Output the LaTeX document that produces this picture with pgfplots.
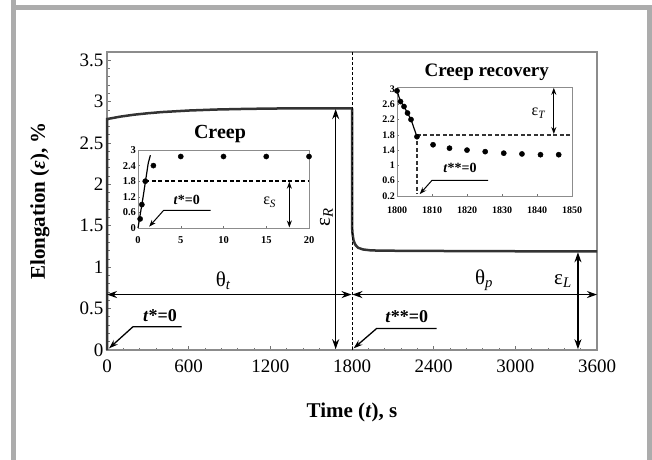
\documentclass[border=0pt]{standalone}
\usepackage{fontspec}
\setmainfont{Liberation Serif}
\usepackage{pgfplots}
\pgfplotsset{compat=1.18}
\usetikzlibrary{arrows.meta}
\begin{document}
\begin{tikzpicture}[x=1pt,y=1pt,
  dbl/.style={{Stealth[length=10pt,width=7pt]}-{Stealth[length=10pt,width=7pt]}, line width=1.6pt},
  sgl/.style={-{Stealth[length=9pt,width=6pt]}, line width=1.3pt},
  sdbl/.style={{Stealth[length=7pt,width=5pt]}-{Stealth[length=7pt,width=5pt]}, line width=1.3pt},
  ssgl/.style={-{Stealth[length=7pt,width=5pt]}, line width=1pt}]
\useasboundingbox (0,0) rectangle (652,459);
\draw[line width=5pt, gray!65] (13.5,468) -- (13.5,451.5) -- (649.5,451.5) -- (649.5,-10);
\draw[line width=5pt, gray!65] (13.5,451.5) -- (13.5,-10);

% main axis
\begin{axis}[
  at={(107pt,109pt)}, anchor=south west,
  scale only axis, width=490pt, height=298pt,
  xmin=0, xmax=3600, ymin=0, ymax=3.6,
  xtick={0,600,...,3600}, ytick={0,0.5,...,3.5},
  minor x tick num=4, minor y tick num=4,
  tick align=inside, tick pos=left,
  major tick length=4pt, minor tick length=2.5pt,
  axis line style={draw=black!45, line width=1.2pt},
  every tick/.style={black!55, line width=0.8pt},
  /pgf/number format/1000 sep={},
  /pgf/number format/assume math mode=true,
  ticklabel style={font=\fontsize{19}{19}\selectfont},
  xticklabel style={yshift=-6pt},
  xlabel={\textbf{Time (\textit{t}), s}},
  ylabel={\textbf{Elongation (\textit{ε}), \%}},
  label style={font=\fontsize{21}{21}\selectfont},
  xlabel style={at={(axis description cs:0.5,-0.21)}, anchor=center},
  ylabel style={at={(axis description cs:-0.137,0.5)}, anchor=center},
  clip=false,
]
% creep
\addplot[black!80, line width=2.5pt] coordinates {
 (0,0) (0,2.79) (50,2.805) (100,2.82) (200,2.843) (300,2.86) (400,2.874) (600,2.893) (800,2.905) (1000,2.912) (1200,2.917) (1500,2.92) (1800,2.92)};
% recovery
\addplot[black!80, line width=2.5pt] coordinates {
 (1800,2.92) (1800,1.50) (1804,1.40) (1812,1.32) (1825,1.27) (1845,1.235) (1880,1.215) (1930,1.205) (2000,1.2) (2600,1.195) (3600,1.19)};
\draw[black, line width=1pt, dash pattern=on 3pt off 2pt] (axis cs:1800,0) -- (axis cs:1800,3.6);
% double arrows
\draw[dbl] (axis cs:1680,0.01) -- (axis cs:1680,2.91);
\draw[dbl] (axis cs:3460,0.01) -- (axis cs:3460,1.18);
\draw[dbl] (axis cs:0,0.67) -- (axis cs:1797,0.67);
\draw[dbl] (axis cs:1803,0.67) -- (axis cs:3600,0.67);
\node[rotate=90, font=\fontsize{21}{21}\selectfont] at (axis cs:1612,1.6) {ε\textsubscript{\textit{R}}};
\node[font=\fontsize{21}{21}\selectfont] at (axis cs:3350,0.83) {ε\textsubscript{\textit{L}}};
\node[font=\fontsize{21}{21}\selectfont] at (axis cs:855,0.84) {θ\textsubscript{\textit{t}}};
\node[font=\fontsize{21}{21}\selectfont] at (axis cs:2770,0.84) {θ\textsubscript{\textit{p}}};
% t*=0
\draw[sgl] (axis cs:549,0.28) -- (axis cs:190,0.28) -- (axis cs:15,0.02);
\node[font=\bfseries\fontsize{18}{18}\selectfont] at (axis cs:390,0.41) {\textit{t}*=0};
\draw[sgl] (axis cs:2422,0.26) -- (axis cs:1981,0.26) -- (axis cs:1812,0.02);
\node[font=\bfseries\fontsize{18}{18}\selectfont] at (axis cs:2202,0.40) {\textit{t}**=0};
\node[font=\bfseries\fontsize{20}{20}\selectfont] at (axis cs:830,2.61) {Creep};
\node[font=\bfseries\fontsize{19}{19}\selectfont] at (axis cs:2790,3.35) {Creep recovery};
\end{axis}

% creep inset
\begin{axis}[
  at={(138pt,231pt)}, anchor=south west,
  scale only axis, width=171pt, height=78pt,
  xmin=0, xmax=20, ymin=0, ymax=3,
  xtick={0,5,...,20}, ytick={0,0.6,1.2,1.8,2.4,3},
  tick align=inside, tick pos=left, major tick length=2pt,
  axis line style={draw=black!45, line width=1pt},
  every tick/.style={black!55},
  /pgf/number format/assume math mode=true,
  ticklabel style={font=\bfseries\fontsize{10.5}{10.5}\selectfont},
  yticklabel style={xshift=1.5pt},
  xticklabel style={yshift=-5pt},
  clip=false,
]
\addplot[black, line width=1.2pt] coordinates {(0,0) (0.6,1.2) (1.2,2.5) (1.45,2.8)};
\addplot[only marks, mark=*, mark size=2.6pt, black] coordinates {
 (0.25,0.35) (0.45,0.9) (0.85,1.8) (1.8,2.4) (5,2.75) (10,2.75) (15,2.75) (20,2.75)};
\draw[black, line width=1.6pt, dash pattern=on 4pt off 2.5pt] (axis cs:0.85,1.8) -- (axis cs:20,1.8);
\draw[sdbl] (axis cs:17.7,0.02) -- (axis cs:17.7,1.78);
\node[font=\fontsize{16}{16}\selectfont] at (axis cs:15.4,1.0) {ε\textsubscript{\textit{S}}};
\draw[ssgl] (axis cs:8.5,0.68) -- (axis cs:3,0.68) -- (axis cs:1.3,0.05);
\node[font=\bfseries\fontsize{14}{14}\selectfont] at (axis cs:5.7,1.07) {\textit{t}*=0};
\end{axis}

% recovery inset
\begin{axis}[
  at={(397pt,263pt)}, anchor=south west,
  scale only axis, width=175pt, height=109pt,
  xmin=1800, xmax=1850, ymin=0.2, ymax=3.05,
  xtick={1800,1810,...,1850}, ytick={0.2,0.6,1,1.4,1.8,2.2,2.6,3},
  tick align=inside, tick pos=left, major tick length=2pt,
  axis line style={draw=black!45, line width=1pt},
  every tick/.style={black!55},
  /pgf/number format/1000 sep={},
  /pgf/number format/assume math mode=true,
  ticklabel style={font=\bfseries\fontsize{10}{10}\selectfont},
  yticklabel style={xshift=1.5pt},
  xticklabel style={yshift=-7pt},
  clip=false,
]
\addplot[black, line width=1.2pt] coordinates {(1800,2.95) (1801,2.67) (1802,2.54) (1803,2.37) (1804,2.2) (1805.7,1.75)};
\addplot[only marks, mark=*, mark size=2.6pt, black] coordinates {
 (1800,2.95) (1801,2.67) (1802,2.54) (1803,2.37) (1804,2.2) (1805.7,1.75)
 (1810.3,1.54) (1815,1.45) (1820,1.40) (1825.2,1.36) (1830.5,1.32) (1835.7,1.30) (1841,1.28) (1846.2,1.28)};
\draw[black!80, line width=1.6pt, dash pattern=on 4pt off 2.5pt] (axis cs:1805.7,1.8) -- (axis cs:1850,1.8);
\draw[black!80, line width=1.3pt, dash pattern=on 4pt off 2.5pt] (axis cs:1805.7,1.8) -- (axis cs:1805.7,0.25);
\draw[sdbl] (axis cs:1844.8,1.82) -- (axis cs:1844.8,3.03);
\node[font=\fontsize{16}{16}\selectfont] at (axis cs:1840.5,2.37) {ε\textsubscript{\textit{T}}};
\draw[ssgl] (axis cs:1826,0.61) -- (axis cs:1810,0.61) -- (axis cs:1806.5,0.25);
\node[font=\bfseries\fontsize{14}{14}\selectfont] at (axis cs:1818,0.93) {\textit{t}**=0};
\end{axis}
\end{tikzpicture}
\end{document}
